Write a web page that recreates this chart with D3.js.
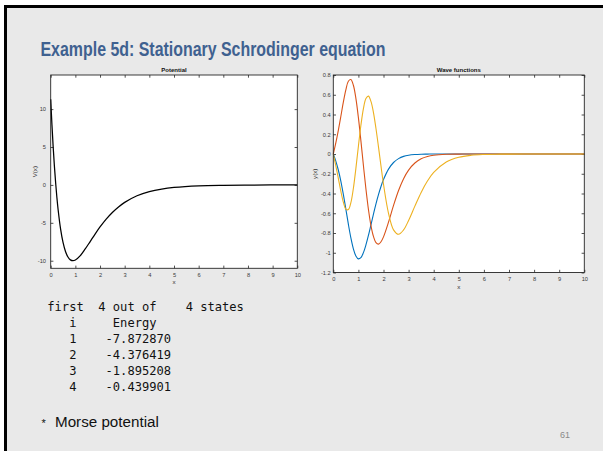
<!DOCTYPE html>
<html><head><meta charset="utf-8">
<script src="https://cdn.jsdelivr.net/npm/d3@7"></script>
<style>body{margin:0;background:#fff}</style></head>
<body>
<svg id="c" width="603" height="451"></svg>
<script>
// ---------------- data ----------------
const potX = [0,0.05,0.1,0.15,0.2,0.25,0.3,0.4,0.5,0.6,0.7,0.8,0.9,1.0,1.2,1.4,1.6,1.8,2.0,2.25,2.5,2.75,3.0,3.5,4.0,4.5,5,6,7,8,9,10];
const potV = [11.30,7.95,5.02,2.48,0.28,-1.62,-3.24,-5.79,-7.58,-8.78,-9.51,-9.89,-10.0,-9.91,-9.33,-8.45,-7.47,-6.48,-5.55,-4.51,-3.63,-2.90,-2.30,-1.43,-0.88,-0.54,-0.33,-0.12,-0.045,-0.017,-0.006,-0.002];

const waveX = [0,0.1,0.2,0.3,0.4,0.5,0.6,0.7,0.8,0.9,1.0,1.1,1.2,1.3,1.4,1.5,1.6,1.7,1.8,1.9,2.0,
               2.2,2.4,2.6,2.8,3.0,3.25,3.5,3.75,4.0,4.5,5.0,5.5,6.0,6.5,7.0,8,9,10];
const psi1 = [0,-0.072,-0.162,-0.274,-0.409,-0.558,-0.711,-0.849,-0.960,-1.032,-1.062,-1.049,-0.999,-0.921,-0.824,-0.717,-0.609,-0.505,-0.412,-0.329,-0.259,
              -0.153,-0.086,-0.047,-0.024,-0.012,-0.005,-0.002,-0.001,0,0,0,0,0,0,0,0,0,0];
const psi2 = [0,0.112,0.24,0.38,0.525,0.65,0.737,0.754,0.696,0.563,0.368,0.133,-0.117,-0.355,-0.562,-0.725,-0.835,-0.897,-0.913,-0.889,-0.839,
              -0.690,-0.521,-0.370,-0.250,-0.163,-0.091,-0.049,-0.026,-0.013,-0.003,-0.001,0,0,0,0,0,0,0];
const psi3 = [0,-0.119,-0.246,-0.376,-0.488,-0.558,-0.563,-0.493,-0.347,-0.145,0.079,0.291,0.459,0.561,0.586,0.533,0.420,0.258,0.072,-0.122,-0.306,
              -0.601,-0.768,-0.813,-0.769,-0.673,-0.528,-0.389,-0.274,-0.187,-0.081,-0.033,-0.013,-0.005,-0.002,-0.001,0,0,0];
const waveSeries = [psi1, psi2, psi3];
const waveColors = ["#0072BD","#D95319","#EDB120"];

const xTicks = [0,1,2,3,4,5,6,7,8,9,10];
const potYTicks = [-10,-5,0,5,10];
const waveYTicks = [-1.2,-1,-0.8,-0.6,-0.4,-0.2,0,0.2,0.4,0.6,0.8];

const titleText = "Example 5d: Stationary Schrodinger equation";
const outputLines = [
  "first  4 out of    4 states",
  "   i     Energy",
  "   1    -7.872870",
  "   2    -4.376419",
  "   3    -1.895208",
  "   4    -0.439901"
];
const bulletText = "Morse potential";
const pageNum = "61";

// ---------------- drawing ----------------
const svg = d3.select("#c");
svg.append("rect").attr("width",603).attr("height",451).attr("fill","#fff");
svg.append("rect").attr("x",5.5).attr("y",6.5).attr("width",610).attr("height",460)
   .attr("fill","#e9e9e9").attr("stroke","#000").attr("stroke-width",3);

const title = svg.append("text").attr("x",40.5).attr("y",55.5)
   .attr("font-family","'Liberation Sans Narrow', 'Liberation Sans', Arial, sans-serif").attr("font-size",19.5)
   .attr("font-weight","bold").attr("fill","#3f6190").text(titleText);
title.attr("textLength",345).attr("lengthAdjust","spacingAndGlyphs");

function drawAxes(o){
  const g = svg.append("g");
  const x = d3.scaleLinear().domain([0,10]).range([o.left,o.right]);
  const y = d3.scaleLinear().domain(o.ydom).range([o.bottom,o.top]);
  g.append("rect").attr("x",o.left).attr("y",o.top).attr("width",o.right-o.left)
   .attr("height",o.bottom-o.top).attr("fill","#fff");
  const tk = 2.7;
  const font = "'Liberation Sans', Arial, sans-serif";
  const style = sel => {
    sel.select(".domain").remove();
    sel.selectAll(".tick line").attr("stroke","#262626").attr("stroke-width",0.8);
    sel.selectAll(".tick text").attr("fill","#3a3a3a").attr("font-size",5.7).attr("font-family",font);
  };
  g.append("g").attr("transform",`translate(0,${o.bottom})`)
   .call(d3.axisBottom(x).tickValues(xTicks).tickSize(-tk).tickPadding(o.xpad).tickFormat(d=>String(d))).call(style);
  g.append("g").attr("transform",`translate(0,${o.top})`)
   .call(d3.axisTop(x).tickValues(xTicks).tickSize(-tk).tickFormat("")).call(style);
  g.append("g").attr("transform",`translate(${o.left},0)`)
   .call(d3.axisLeft(y).tickValues(o.yticks).tickSize(-tk).tickPadding(o.ypad).tickFormat(d=>String(+d.toFixed(1)))).call(style);
  g.append("g").attr("transform",`translate(${o.right},0)`)
   .call(d3.axisRight(y).tickValues(o.yticks).tickSize(-tk).tickFormat("")).call(style);

  const line = d3.line().x(d=>x(d[0])).y(d=>y(d[1])).curve(d3.curveCatmullRom.alpha(0.5));
  o.series.forEach((s,i)=>{
    g.append("path").attr("d",line(o.xs.map((v,j)=>[v,s[j]])))
     .attr("fill","none").attr("stroke",o.colors[i]).attr("stroke-width",o.lw);
  });
  g.append("rect").attr("x",o.left).attr("y",o.top).attr("width",o.right-o.left)
   .attr("height",o.bottom-o.top).attr("fill","none").attr("stroke","#262626").attr("stroke-width",0.9);

  g.append("text").attr("x",(o.left+o.right)/2).attr("y",o.top-2.6).attr("text-anchor","middle")
   .attr("font-family",font).attr("font-weight","bold").attr("font-size",6).attr("fill","#111").text(o.title);
  g.append("text").attr("x",(o.left+o.right)/2).attr("y",o.xlabY).attr("text-anchor","middle")
   .attr("font-family",font).attr("font-size",6.2).attr("fill","#333").text("x");
  g.append("text").attr("transform",`translate(${o.ylabX},${(o.top+o.bottom)/2}) rotate(-90)`)
   .attr("text-anchor","middle").attr("font-family",font).attr("font-size",6.2).attr("fill","#333").text(o.ylabel);
}

drawAxes({left:50.7,right:297.3,top:75,bottom:268.3,ydom:[-11,14.5],yticks:potYTicks,
  xpad:4.6,ypad:4.7,series:[potV],xs:potX,colors:["#000"],lw:1.25,title:"Potential",
  xlabY:284.3,ylabX:36.8,ylabel:"V(x)"});
drawAxes({left:333.3,right:584.3,top:75,bottom:272.5,ydom:[-1.2,0.8],yticks:waveYTicks,
  xpad:4.3,ypad:2.6,series:waveSeries,xs:waveX,colors:waveColors,lw:1.1,title:"Wave functions",
  xlabY:288.8,ylabX:317.2,ylabel:"y(x)"});

const tg = svg.append("g").attr("font-family","'DejaVu Sans Mono', 'Liberation Mono', monospace")
  .attr("font-size",12.1).attr("fill","#111");
outputLines.forEach((t,i)=>{
  tg.append("text").attr("x",47.3).attr("y",310.7+16*i).style("white-space","pre").text(t);
});
svg.append("text").attr("x",41.5).attr("y",427).attr("font-family","'Liberation Sans', Arial, sans-serif")
  .attr("font-size",11).attr("fill","#111").text("*");
svg.append("text").attr("x",55).attr("y",427.3).attr("font-family","'Liberation Sans', Arial, sans-serif")
  .attr("font-size",15.2).attr("fill","#111").text(bulletText);
svg.append("text").attr("x",560).attr("y",437.7).attr("font-family","'Liberation Sans', Arial, sans-serif")
  .attr("font-size",9).attr("fill","#8a8a8a").text(pageNum);
</script>
</body></html>
